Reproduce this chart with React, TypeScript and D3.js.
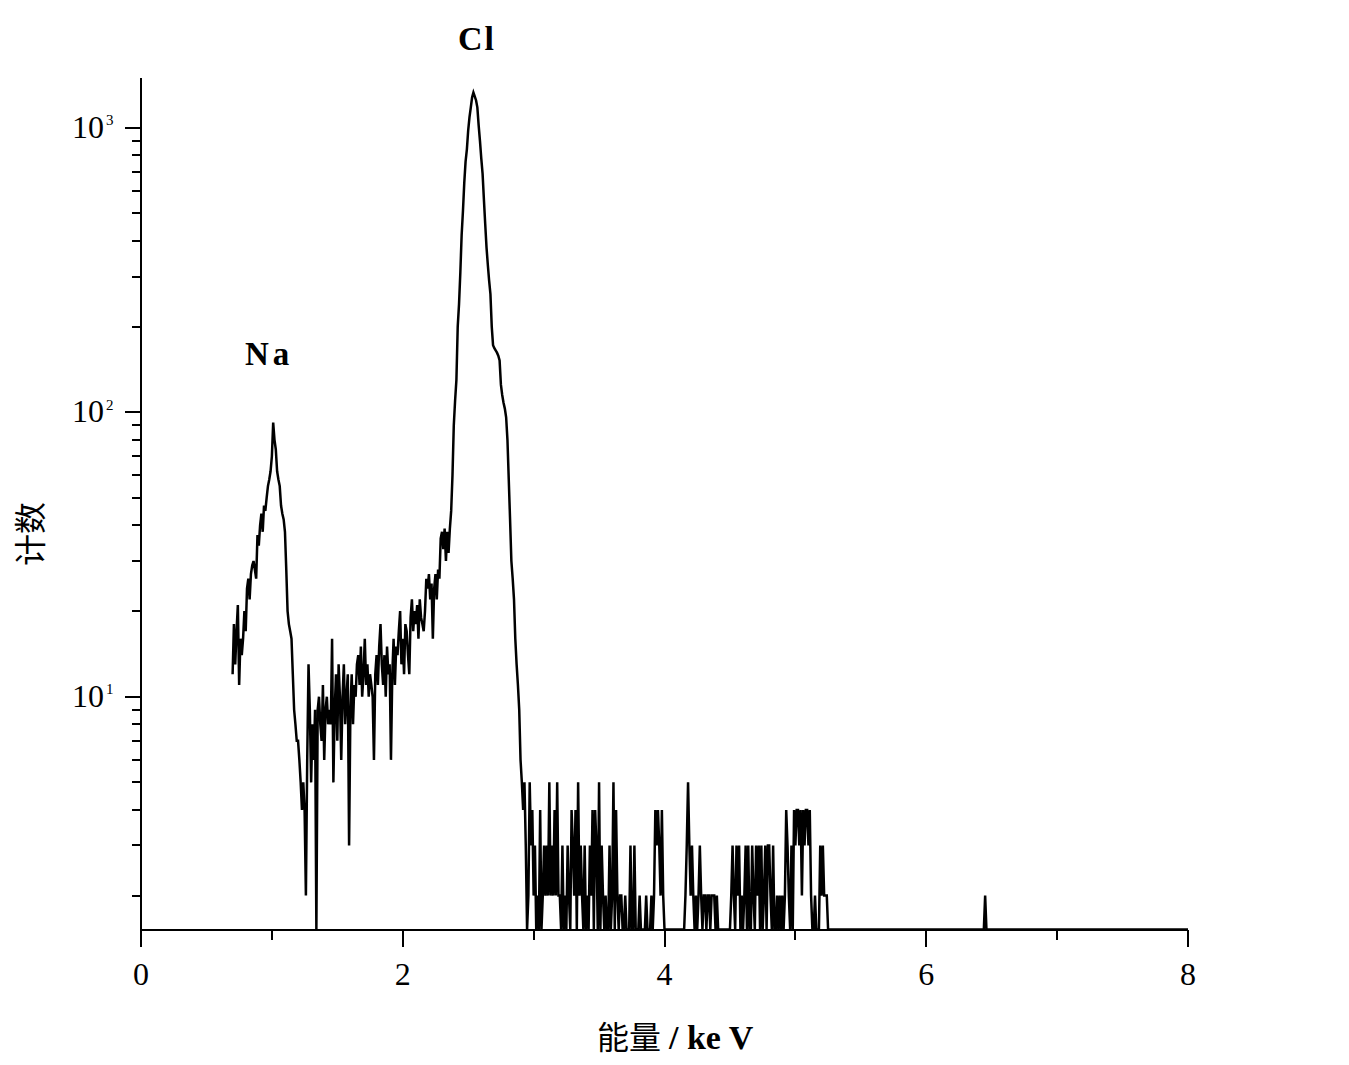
import React from 'react';
import * as d3 from 'd3';

// EDS spectrum: counts per 0.01 keV channel starting at 0.70 keV
const energyStart = 0.70;
const channelWidth = 0.01;

// 0.70 – 1.09 keV (Na K peak)
const naRegionCounts = [
  12, 18, 13, 17, 21, 11, 16, 14, 16, 20,
  17, 24, 26, 22, 27, 29, 30, 28, 26, 37,
  34, 40, 44, 38, 47, 45, 50, 55, 58, 62,
  70, 92, 80, 74, 62, 58, 55, 47, 44, 42,
];

// 1.10 – 2.39 keV (bremsstrahlung background)
const backgroundCounts = [
  38, 28, 20, 18, 17, 16, 12, 9, 8, 7,
  7, 6, 5, 4, 5, 4, 2, 6, 13, 9,
  5, 8, 6, 9, 0, 9, 10, 8, 7, 11,
  6, 9, 10, 8, 9, 8, 16, 5, 9, 12,
  7, 13, 10, 6, 10, 13, 8, 10, 12, 3,
  9, 12, 8, 11, 10, 13, 14, 11, 15, 10,
  12, 16, 11, 13, 10, 12, 11, 10, 6, 12,
  14, 11, 15, 18, 13, 11, 14, 10, 15, 12,
  13, 6, 12, 16, 11, 15, 14, 17, 20, 13,
  16, 12, 18, 17, 14, 12, 19, 22, 17, 20,
  18, 21, 16, 22, 19, 18, 17, 20, 26, 24,
  27, 22, 25, 16, 24, 27, 22, 28, 26, 36,
  38, 33, 39, 30, 38, 32, 39, 45, 60, 90,
];

// 2.40 – 2.89 keV (Cl K peak)
const clPeakCounts = [
  110, 130, 200, 240, 310, 420, 510, 640, 760, 840,
  980, 1090, 1180, 1280, 1330, 1290, 1250, 1180, 1020, 900,
  780, 690, 560, 460, 380, 330, 290, 260, 200, 172,
  168, 165, 162, 158, 152, 125, 115, 108, 103, 96,
  80, 58, 42, 30, 26, 22, 16, 13, 11, 9,
];

// 2.90 – 5.25 keV (noisy tail)
const tailCounts = [
  6, 5, 4, 5, 3, 0, 2, 5, 3, 4,
  2, 3, 0, 2, 0, 4, 0, 2, 3, 2,
  3, 2, 5, 2, 3, 2, 4, 2, 5, 2,
  2, 0, 3, 0, 2, 0, 3, 2, 0, 4,
  3, 2, 4, 0, 5, 2, 3, 2, 0, 3,
  0, 2, 0, 3, 2, 4, 0, 4, 3, 0,
  5, 0, 3, 2, 0, 2, 0, 0, 3, 0,
  2, 5, 0, 4, 2, 0, 2, 2, 0, 0,
  2, 0, 0, 0, 3, 0, 0, 3, 0, 0,
  0, 2, 0, 0, 0, 0, 2, 0, 0, 0,
  2, 0, 2, 4, 3, 4, 3, 2, 4, 2,
  0, 0, 0, 0, 0, 0, 0, 0, 0, 0,
  0, 0, 0, 0, 0, 0, 2, 3, 5, 3,
  2, 3, 2, 0, 2, 0, 2, 3, 2, 0,
  2, 2, 0, 2, 2, 0, 2, 2, 2, 0,
  2, 0, 0, 0, 0, 0, 0, 0, 0, 0,
  0, 2, 3, 2, 0, 3, 2, 3, 0, 2,
  0, 2, 3, 0, 3, 0, 0, 3, 2, 0,
  3, 2, 3, 0, 3, 0, 2, 3, 0, 3,
  3, 2, 0, 3, 0, 0, 2, 0, 2, 0,
  2, 0, 2, 4, 3, 2, 0, 3, 0, 4,
  3, 4, 4, 3, 4, 2, 4, 3, 4, 4,
  3, 4, 2, 0, 0, 2, 0, 0, 0, 3,
  2, 3, 2, 2, 2, 0,
];

// isolated points beyond the tail [keV, counts]
const sparsePoints: [number, number][] = [
  [6.44, 0], [6.45, 2], [6.46, 0], [8.0, 0],
];

const xTicks = [0, 2, 4, 6, 8];
const xMinorTicks = [1, 3, 5, 7];
const yMajorExponents = [1, 2, 3];

export default function App() {
  const W = 1349, H = 1065;
  const yMin = 1.52, yMax = 1496;
  const x = d3.scaleLinear().domain([0, 8]).range([141, 1188]);
  const y = d3.scaleLog().domain([yMin, yMax]).range([929.5, 78]);

  const allCounts = [...naRegionCounts, ...backgroundCounts, ...clPeakCounts, ...tailCounts];
  const data: [number, number][] = allCounts.map((c, i) => [energyStart + i * channelWidth, c]);
  const full = [...data, ...sparsePoints];

  const line = d3.line<[number, number]>()
    .x(d => x(d[0]))
    .y(d => y(Math.max(d[1], yMin)));

  const yMinor: number[] = [];
  for (let k = 0; k <= 3; k++) {
    for (let m = 2; m <= 9; m++) {
      const v = m * Math.pow(10, k);
      if (v > yMin && v < yMax) yMinor.push(v);
    }
  }

  const serif = '"Liberation Serif", "Times New Roman", serif';
  const cjk = '"Liberation Serif", "Noto Sans CJK SC", serif';

  return (
    <svg width={W} height={H} style={{ position: 'absolute', left: 0, top: 0, background: '#fff' }}>
      <rect x={0} y={0} width={W} height={H} fill="#fff" />
      {/* axes */}
      <g stroke="#000" strokeWidth={2} shapeRendering="crispEdges">
        <line x1={x(0)} x2={x(0)} y1={78} y2={929.5} />
        <line x1={x(0)} x2={x(8)} y1={929.5} y2={929.5} />
        {xTicks.map(t => (
          <line key={'xt' + t} x1={x(t)} x2={x(t)} y1={929.5} y2={947} />
        ))}
        {xMinorTicks.map(t => (
          <line key={'xm' + t} x1={x(t)} x2={x(t)} y1={929.5} y2={940} />
        ))}
        {yMajorExponents.map(e => (
          <line key={'yt' + e} x1={125} x2={x(0)} y1={y(Math.pow(10, e))} y2={y(Math.pow(10, e))} />
        ))}
        {yMinor.map(v => (
          <line key={'ym' + v} x1={132} x2={x(0)} y1={y(v)} y2={y(v)} />
        ))}
      </g>
      {/* x tick labels */}
      {xTicks.map(t => (
        <text key={'xl' + t} x={x(t)} y={985} textAnchor="middle" fontFamily={serif} fontSize={32} fill="#000">{t}</text>
      ))}
      {/* y tick labels */}
      {yMajorExponents.map(e => {
        const ty = y(Math.pow(10, e));
        return (
          <g key={'yl' + e}>
            <text x={104} y={ty + 10} textAnchor="end" fontFamily={serif} fontSize={32} fill="#000">10</text>
            <text x={106} y={ty - 2.5} fontFamily={serif} fontSize={15} fill="#000">{e}</text>
          </g>
        );
      })}
      {/* spectrum */}
      <path d={line(full) || ''} fill="none" stroke="#000" strokeWidth={2.5} strokeLinejoin="miter" />
      {/* peak labels */}
      <text x={245} y={365} fontFamily={serif} fontWeight="bold" fontSize={33} letterSpacing={4} fill="#000">Na</text>
      <text x={458} y={50} fontFamily={serif} fontWeight="bold" fontSize={34} letterSpacing={2} fill="#000">Cl</text>
      {/* axis titles */}
      <text x={597} y={1049} fontFamily={cjk} fontSize={32} fill="#000">
        <tspan>能量 </tspan>
        <tspan fontWeight="bold" fontSize={34}>/ ke V</tspan>
      </text>
      <text transform="translate(42,534) rotate(-90)" textAnchor="middle" fontFamily={cjk} fontSize={32} fill="#000">计数</text>
    </svg>
  );
}
